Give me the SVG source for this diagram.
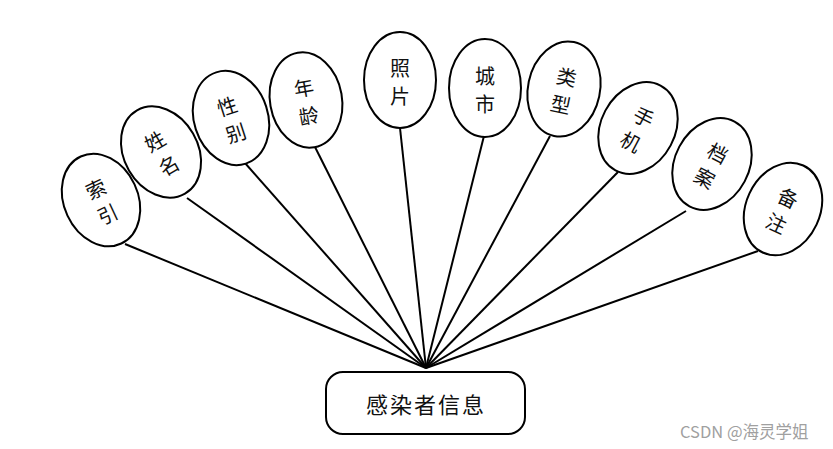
<svg xmlns="http://www.w3.org/2000/svg" width="833" height="449" viewBox="0 0 833 449">
<defs>
<style>
.e{fill:#fff;stroke:#000;stroke-width:2}
.t{font-family:"Noto Sans CJK SC","Noto Sans",sans-serif;font-size:20px;fill:#111;text-anchor:middle;dominant-baseline:central}
.c line{stroke:#000;stroke-width:2}
</style>
</defs>
<rect width="833" height="449" fill="#fff"/>
<g class="c" id="connectors">
<line x1="426" y1="368" x2="125" y2="244"/>
<line x1="426" y1="368" x2="187" y2="198"/>
<line x1="426" y1="368" x2="245" y2="163"/>
<line x1="426" y1="368" x2="315" y2="147"/>
<line x1="426" y1="368" x2="400" y2="128"/>
<line x1="426" y1="368" x2="484" y2="136"/>
<line x1="426" y1="368" x2="550" y2="136"/>
<line x1="426" y1="368" x2="618" y2="172"/>
<line x1="426" y1="368" x2="686" y2="211"/>
<line x1="426" y1="368" x2="758" y2="251"/>
</g>
<g id="n1" transform="translate(101,200) rotate(-25)"><ellipse class="e" rx="37" ry="48"/><text class="t" y="-13">索</text><text class="t" y="15">引</text></g>
<g id="n2" transform="translate(161,152) rotate(-30)"><ellipse class="e" rx="37" ry="48"/><text class="t" y="-13">姓</text><text class="t" y="15">名</text></g>
<g id="n3" transform="translate(231,118) rotate(-18)"><ellipse class="e" rx="37" ry="48"/><text class="t" y="-13">性</text><text class="t" y="15">别</text></g>
<g id="n4" transform="translate(306,100) rotate(-10)"><ellipse class="e" rx="36" ry="48"/><text class="t" y="-13">年</text><text class="t" y="15">龄</text></g>
<g id="n5" transform="translate(400,80)"><ellipse class="e" rx="36" ry="48"/><text class="t" y="-13">照</text><text class="t" y="15">片</text></g>
<g id="n6" transform="translate(485,88)"><ellipse class="e" rx="36" ry="49"/><text class="t" y="-13">城</text><text class="t" y="15">市</text></g>
<g id="n7" transform="translate(564,89) rotate(12)"><ellipse class="e" rx="36" ry="48"/><text class="t" y="-13">类</text><text class="t" y="15">型</text></g>
<g id="n8" transform="translate(638,128) rotate(28)"><ellipse class="e" rx="37" ry="48"/><text class="t" y="-13">手</text><text class="t" y="15">机</text></g>
<g id="n9" transform="translate(712,164) rotate(28)"><ellipse class="e" rx="37" ry="48"/><text class="t" y="-13">档</text><text class="t" y="15">案</text></g>
<g id="n10" transform="translate(783,209) rotate(25)"><ellipse class="e" rx="37" ry="48"/><text class="t" y="-13">备</text><text class="t" y="15">注</text></g>
<g id="main"><rect class="e" x="326" y="372" width="199" height="62" rx="17"/><text class="t" x="426" y="403" style="font-size:22px;letter-spacing:2px">感染者信息</text></g>
<text x="680" y="438" style="font-family:'Noto Sans CJK SC','Noto Sans',sans-serif;font-size:16.5px;fill:#a0a0a0">CSDN @海灵学姐</text>
</svg>
